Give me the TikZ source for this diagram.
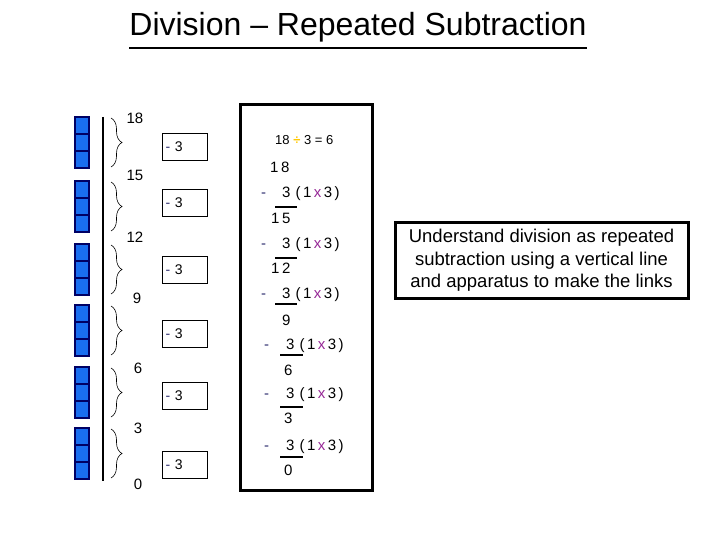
\documentclass[tikz,border=0pt]{standalone}
\usepackage{fontspec}
\setmainfont{Liberation Sans}
\usetikzlibrary{positioning,decorations.pathreplacing}

\definecolor{cubeblue}{RGB}{25,110,240}
\definecolor{cubeedge}{RGB}{0,0,100}
\definecolor{minusnavy}{RGB}{45,45,110}
\definecolor{timespurple}{RGB}{150,40,150}
\definecolor{divyellow}{RGB}{255,200,0}

\newcommand{\mn}{\textcolor{minusnavy}{-}}
\newcommand{\tx}{\textcolor{timespurple}{x}}
\newcommand{\takerow}{3\hspace{5pt}(\,1\,\tx\,3\,)}

\begin{document}
\begin{tikzpicture}[x=1pt, y=-1pt,
    cube/.style={draw=cubeedge, fill=cubeblue, line width=1.2pt},
    groupbrace/.style={decorate, decoration={brace, amplitude=11pt}, line width=0.6pt},
    stepnum/.style={font=\fontsize{15}{15}\selectfont, inner sep=0pt},
    takebox/.style={rectangle, draw, line width=1.3pt, minimum width=45pt, minimum height=27pt, inner sep=3pt, text width=39pt, align=left, font=\fontsize{14}{14}\selectfont},
    sumtext/.style={font=\fontsize{15}{15}\selectfont, inner sep=0pt, anchor=base west},
    rule/.style={line width=1.1pt}
]
    \useasboundingbox (0,0) rectangle (720,540);

    % title
    \node[font=\fontsize{32}{32}\selectfont, inner sep=0pt] (title) at (358,27) {Division – Repeated Subtraction};
    \draw[line width=1.8pt] ([yshift=-6pt]title.south west) -- ([yshift=-6pt]title.south east);

    % cubes and braces, one group of three for each step
    \foreach \t in {117,181,244,305,367,428} {
        \draw[cube] (75,\t) rectangle (89,\t+17);
        \draw[cube] (75,\t+17) rectangle (89,\t+34);
        \draw[cube] (75,\t+34) rectangle (89,\t+51);
        \draw[groupbrace] (111,\t+1) -- (111,\t+50);
    }
    \draw[line width=1.6pt] (103,117) -- (103,481);

    % numbers on the line
    \node[stepnum] (n18) at (135,118) {18};
    \node[stepnum] (n15) at (135,175) {15};
    \node[stepnum] (n12) at (135,237) {12};
    \node[stepnum] (n9) at (137,298) {9};
    \node[stepnum] (n6) at (138,368) {6};
    \node[stepnum] (n3) at (138,428) {3};
    \node[stepnum] (n0) at (138,484) {0};

    % minus three boxes
    \node[takebox] (take1) at (185,147) {\mn\,\,3};
    \node[takebox] (take2) at (185,203) {\mn\,\,3};
    \node[takebox] (take3) at (185,270) {\mn\,\,3};
    \node[takebox] (take4) at (185,334) {\mn\,\,3};
    \node[takebox] (take5) at (185,396) {\mn\,\,3};
    \node[takebox] (take6) at (185,465) {\mn\,\,3};

    % written method
    \node[draw, line width=3pt, minimum width=132pt, minimum height=385pt, inner sep=0pt] (workbox) at (306,297.5) {};
    \node[sumtext, font=\fontsize{13}{13}\selectfont] (sum) at (275,145) {18 \textcolor{divyellow}{\textbf{÷}} 3 = 6};
    \node[sumtext] (w18) at (270,173) {1\,8};
    \node[sumtext] (sub1) at (261,198) {\mn\hspace{16pt}\takerow};
    \draw[rule] (275,207) -- (297,207);
    \node[sumtext] (w15) at (271,224) {1\,5};
    \node[sumtext] (sub2) at (261,248) {\mn\hspace{16pt}\takerow};
    \draw[rule] (275,258) -- (297,258);
    \node[sumtext] (w12) at (271,273) {1\,2};
    \node[sumtext] (sub3) at (261,298) {\mn\hspace{16pt}\takerow};
    \draw[rule] (275,304) -- (297,304);
    \node[sumtext] (w9) at (282,325) {9};
    \node[sumtext] (sub4) at (264,349) {\mn\hspace{17pt}\takerow};
    \draw[rule] (280,355) -- (303,355);
    \node[sumtext] (w6) at (284,375) {6};
    \node[sumtext] (sub5) at (264,398) {\mn\hspace{17pt}\takerow};
    \draw[rule] (280,407) -- (303,407);
    \node[sumtext] (w3) at (284,423) {3};
    \node[sumtext] (sub6) at (264,450) {\mn\hspace{17pt}\takerow};
    \draw[rule] (280,457) -- (303,457);
    \node[sumtext] (w0) at (284,475) {0};

    % note
    \node[draw, line width=3pt, minimum width=293pt, minimum height=75pt, align=center, font=\fontsize{18.5}{22.5}\selectfont] (note) at (541.5,260.5) {Understand division as repeated\\subtraction using a vertical line\\and apparatus to make the links};
\end{tikzpicture}
\end{document}
